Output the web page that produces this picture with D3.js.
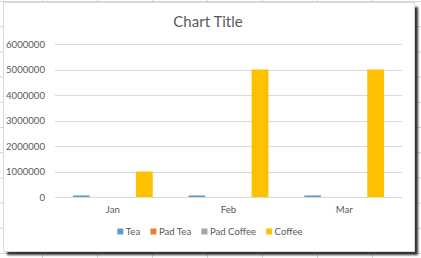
<!DOCTYPE html>
<html>
<head>
<meta charset="utf-8">
<script src="https://cdn.jsdelivr.net/npm/d3@7"></script>
<style>
  html, body { margin: 0; padding: 0; background: #fff; }
  svg { display: block; font-family: Lato, "Open Sans", sans-serif; }
</style>
</head>
<body>
<svg id="chart" width="421" height="258"></svg>
<script>
// Monthly figures per product line
const months = ["Jan", "Feb", "Mar"];
const seriesNames = ["Tea", "Pad Tea", "Pad Coffee", "Coffee"];
const tea = [60000, 60000, 60000];
const padTea = [0, 0, 0];
const padCoffee = [0, 0, 0];
const coffee = [1000000, 5000000, 5000000];
const yTicks = [0, 1000000, 2000000, 3000000, 4000000, 5000000, 6000000];
const colors = ["#5B9BD5", "#ED7D31", "#A5A5A5", "#FFC000"];

const seriesValues = [tea, padTea, padCoffee, coffee];
const rows = [];
seriesValues.forEach((vals, si) => {
  vals.forEach((v, mi) => rows.push({ series: seriesNames[si], month: months[mi], value: v }));
});

const svg = d3.select("#chart");
const W = 421, H = 258;

// Worksheet cell grid behind the chart object
const sheet = svg.append("g").attr("stroke", "#d6d6d6").attr("stroke-width", 1);
d3.range(0, 8).forEach(i => {
  const x = 42.5 + i * 55;
  sheet.append("line").attr("x1", x).attr("x2", x).attr("y1", 0).attr("y2", H);
});
d3.range(0, 11).forEach(i => {
  const y = 1.5 + i * 25.2;
  sheet.append("line").attr("x1", 0).attr("x2", W).attr("y1", y).attr("y2", y);
});

// Drop shadow and chart frame
const defs = svg.append("defs");
defs.append("filter").attr("id", "shadowBlur")
  .attr("x", "-5%").attr("y", "-5%").attr("width", "110%").attr("height", "110%")
  .append("feGaussianBlur").attr("stdDeviation", 0.8);
svg.append("rect")
  .attr("x", 7).attr("y", 7).attr("width", 411).attr("height", 248)
  .attr("fill", "#333").attr("filter", "url(#shadowBlur)");
svg.append("rect")
  .attr("x", 3.5).attr("y", 2.5).attr("width", 411).attr("height", 249)
  .attr("fill", "#fff").attr("stroke", "#d9d9d9").attr("stroke-width", 1);

// Title
svg.append("text")
  .attr("x", 208).attr("y", 27)
  .attr("text-anchor", "middle")
  .attr("font-size", 15)
  .attr("fill", "#595959")
  .text("Chart Title");

// Scales
const plotLeft = 55, plotRight = 402, plotTop = 44, plotBottom = 197;
const y = d3.scaleLinear().domain([0, 6000000]).range([plotBottom, plotTop]);
const x0 = d3.scaleBand().domain(months).range([plotLeft, plotRight])
  .paddingInner(0.31).paddingOuter(0.155);
const x1 = d3.scaleBand().domain(seriesNames).range([0, x0.bandwidth()])
  .paddingInner(0.2).paddingOuter(0);
const color = d3.scaleOrdinal().domain(seriesNames).range(colors);

// Horizontal gridlines
svg.append("g")
  .selectAll("line").data(yTicks).join("line")
  .attr("x1", plotLeft).attr("x2", plotRight)
  .attr("y1", d => Math.round(y(d)) + 0.5).attr("y2", d => Math.round(y(d)) + 0.5)
  .attr("stroke", "#d9d9d9").attr("stroke-width", 1);

// Value axis
const yAxis = svg.append("g")
  .attr("transform", `translate(${plotLeft - 10},0)`)
  .call(d3.axisLeft(y).tickValues(yTicks).tickSize(0).tickPadding(0).tickFormat(d3.format("d")));
yAxis.select(".domain").remove();
yAxis.selectAll("text").attr("font-size", 9.6).attr("fill", "#595959")
  .attr("font-family", "Lato, 'Open Sans', sans-serif");

// Category axis
const xAxis = svg.append("g")
  .attr("transform", `translate(0,${plotBottom + 9})`)
  .call(d3.axisBottom(x0).tickSize(0).tickPadding(0));
xAxis.select(".domain").remove();
xAxis.selectAll("text").attr("font-size", 9.6).attr("fill", "#595959")
  .attr("font-family", "Lato, 'Open Sans', sans-serif");

// Bars
svg.append("g")
  .selectAll("rect").data(rows).join("rect")
  .attr("x", d => x0(d.month) + x1(d.series))
  .attr("width", x1.bandwidth())
  .attr("y", d => y(d.value))
  .attr("height", d => y(0) - y(d.value))
  .attr("fill", d => color(d.series));

// Legend, centred under the chart
const legend = svg.append("g").attr("transform", "translate(0,235)");
const items = legend.selectAll("g").data(seriesNames).join("g");
items.append("rect").attr("width", 6).attr("height", 6).attr("y", -6.5)
  .attr("fill", d => color(d));
items.append("text").attr("x", 8.5).attr("font-size", 9.6).attr("fill", "#595959")
  .text(d => d);
const widths = [];
items.each(function () { widths.push(this.getBBox().width); });
const gap = 10;
const total = d3.sum(widths) + gap * (widths.length - 1);
let cursor = 210 - total / 2;
items.attr("transform", (d, i) => {
  const t = `translate(${cursor},0)`;
  cursor += widths[i] + gap;
  return t;
});
</script>
</body>
</html>
